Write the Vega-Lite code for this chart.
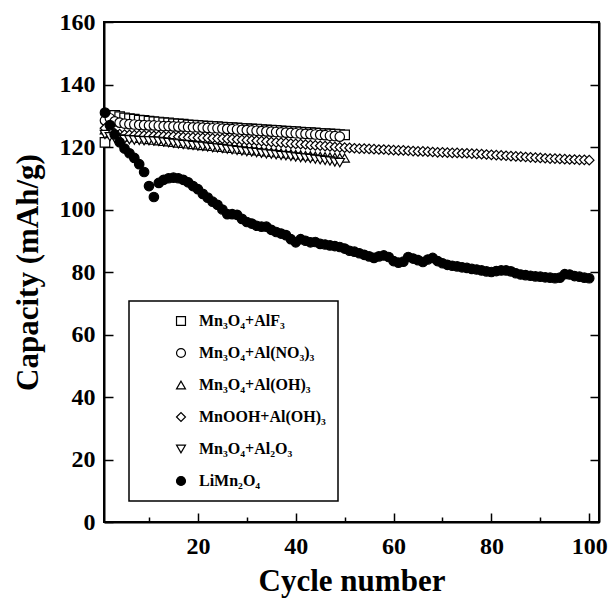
{
  "$schema": "https://vega.github.io/schema/vega-lite/v6.json",
  "width": 495,
  "height": 500,
  "autosize": "none",
  "padding": {"left": 104, "top": 22, "right": 11, "bottom": 76},
  "background": "white",
  "config": {
    "view": {"stroke": "black", "strokeWidth": 2},
    "font": "Liberation Serif",
    "axis": {
      "labelFont": "Liberation Serif", "labelFontWeight": "bold", "labelFontSize": 24, "labelColor": "black",
      "titleFont": "Liberation Serif", "titleFontWeight": "bold", "titleFontSize": 31, "titleColor": "black",
      "domainColor": "black", "domainWidth": 2, "tickColor": "black", "tickWidth": 1.5, "grid": false
    },
    "legend": {
      "orient": "none", "legendX": 25, "legendY": 279, "strokeColor": "black", "strokeWidth": 1.5,
      "padding": 12, "symbolOffset": 32, "labelOffset": 10, "rowPadding": 16,
      "labelFont": "Liberation Serif", "labelFontSize": 16, "labelFontWeight": "bold", "labelColor": "black",
      "symbolSize": 80, "symbolStrokeWidth": 1.2, "title": null
    }
  },
  "data": {"values": [
    {"series":"Mn₃O₄+AlF₃","cycle":1,"capacity":121.5},{"series":"Mn₃O₄+AlF₃","cycle":2,"capacity":130.0},{"series":"Mn₃O₄+AlF₃","cycle":3,"capacity":130.1},{"series":"Mn₃O₄+AlF₃","cycle":4,"capacity":129.7},{"series":"Mn₃O₄+AlF₃","cycle":5,"capacity":129.3},{"series":"Mn₃O₄+AlF₃","cycle":6,"capacity":129.1},{"series":"Mn₃O₄+AlF₃","cycle":7,"capacity":128.9},{"series":"Mn₃O₄+AlF₃","cycle":8,"capacity":128.6},{"series":"Mn₃O₄+AlF₃","cycle":9,"capacity":128.5},{"series":"Mn₃O₄+AlF₃","cycle":10,"capacity":128.3},
    {"series":"Mn₃O₄+AlF₃","cycle":11,"capacity":128.1},{"series":"Mn₃O₄+AlF₃","cycle":12,"capacity":128.0},{"series":"Mn₃O₄+AlF₃","cycle":13,"capacity":127.8},{"series":"Mn₃O₄+AlF₃","cycle":14,"capacity":127.7},{"series":"Mn₃O₄+AlF₃","cycle":15,"capacity":127.5},{"series":"Mn₃O₄+AlF₃","cycle":16,"capacity":127.4},{"series":"Mn₃O₄+AlF₃","cycle":17,"capacity":127.3},{"series":"Mn₃O₄+AlF₃","cycle":18,"capacity":127.1},{"series":"Mn₃O₄+AlF₃","cycle":19,"capacity":127.0},{"series":"Mn₃O₄+AlF₃","cycle":20,"capacity":126.9},
    {"series":"Mn₃O₄+AlF₃","cycle":21,"capacity":126.8},{"series":"Mn₃O₄+AlF₃","cycle":22,"capacity":126.7},{"series":"Mn₃O₄+AlF₃","cycle":23,"capacity":126.6},{"series":"Mn₃O₄+AlF₃","cycle":24,"capacity":126.5},{"series":"Mn₃O₄+AlF₃","cycle":25,"capacity":126.4},{"series":"Mn₃O₄+AlF₃","cycle":26,"capacity":126.3},{"series":"Mn₃O₄+AlF₃","cycle":27,"capacity":126.2},{"series":"Mn₃O₄+AlF₃","cycle":28,"capacity":126.1},{"series":"Mn₃O₄+AlF₃","cycle":29,"capacity":126.0},{"series":"Mn₃O₄+AlF₃","cycle":30,"capacity":125.9},
    {"series":"Mn₃O₄+AlF₃","cycle":31,"capacity":125.8},{"series":"Mn₃O₄+AlF₃","cycle":32,"capacity":125.7},{"series":"Mn₃O₄+AlF₃","cycle":33,"capacity":125.6},{"series":"Mn₃O₄+AlF₃","cycle":34,"capacity":125.5},{"series":"Mn₃O₄+AlF₃","cycle":35,"capacity":125.4},{"series":"Mn₃O₄+AlF₃","cycle":36,"capacity":125.3},{"series":"Mn₃O₄+AlF₃","cycle":37,"capacity":125.2},{"series":"Mn₃O₄+AlF₃","cycle":38,"capacity":125.1},{"series":"Mn₃O₄+AlF₃","cycle":39,"capacity":125.0},{"series":"Mn₃O₄+AlF₃","cycle":40,"capacity":124.9},
    {"series":"Mn₃O₄+AlF₃","cycle":41,"capacity":124.8},{"series":"Mn₃O₄+AlF₃","cycle":42,"capacity":124.7},{"series":"Mn₃O₄+AlF₃","cycle":43,"capacity":124.6},{"series":"Mn₃O₄+AlF₃","cycle":44,"capacity":124.5},{"series":"Mn₃O₄+AlF₃","cycle":45,"capacity":124.4},{"series":"Mn₃O₄+AlF₃","cycle":46,"capacity":124.3},{"series":"Mn₃O₄+AlF₃","cycle":47,"capacity":124.2},{"series":"Mn₃O₄+AlF₃","cycle":48,"capacity":124.1},{"series":"Mn₃O₄+AlF₃","cycle":49,"capacity":124.0},{"series":"Mn₃O₄+AlF₃","cycle":50,"capacity":123.9},

    {"series":"Mn₃O₄+Al(NO₃)₃","cycle":1,"capacity":128.5},{"series":"Mn₃O₄+Al(NO₃)₃","cycle":2,"capacity":129.2},{"series":"Mn₃O₄+Al(NO₃)₃","cycle":3,"capacity":128.2},{"series":"Mn₃O₄+Al(NO₃)₃","cycle":4,"capacity":127.8},{"series":"Mn₃O₄+Al(NO₃)₃","cycle":5,"capacity":127.5},{"series":"Mn₃O₄+Al(NO₃)₃","cycle":6,"capacity":127.3},{"series":"Mn₃O₄+Al(NO₃)₃","cycle":7,"capacity":127.2},{"series":"Mn₃O₄+Al(NO₃)₃","cycle":8,"capacity":127.1},{"series":"Mn₃O₄+Al(NO₃)₃","cycle":9,"capacity":127.0},{"series":"Mn₃O₄+Al(NO₃)₃","cycle":10,"capacity":126.9},
    {"series":"Mn₃O₄+Al(NO₃)₃","cycle":11,"capacity":126.9},{"series":"Mn₃O₄+Al(NO₃)₃","cycle":12,"capacity":126.8},{"series":"Mn₃O₄+Al(NO₃)₃","cycle":13,"capacity":126.7},{"series":"Mn₃O₄+Al(NO₃)₃","cycle":14,"capacity":126.7},{"series":"Mn₃O₄+Al(NO₃)₃","cycle":15,"capacity":126.6},{"series":"Mn₃O₄+Al(NO₃)₃","cycle":16,"capacity":126.5},{"series":"Mn₃O₄+Al(NO₃)₃","cycle":17,"capacity":126.5},{"series":"Mn₃O₄+Al(NO₃)₃","cycle":18,"capacity":126.4},{"series":"Mn₃O₄+Al(NO₃)₃","cycle":19,"capacity":126.3},{"series":"Mn₃O₄+Al(NO₃)₃","cycle":20,"capacity":126.3},
    {"series":"Mn₃O₄+Al(NO₃)₃","cycle":21,"capacity":126.2},{"series":"Mn₃O₄+Al(NO₃)₃","cycle":22,"capacity":126.1},{"series":"Mn₃O₄+Al(NO₃)₃","cycle":23,"capacity":126.0},{"series":"Mn₃O₄+Al(NO₃)₃","cycle":24,"capacity":126.0},{"series":"Mn₃O₄+Al(NO₃)₃","cycle":25,"capacity":125.9},{"series":"Mn₃O₄+Al(NO₃)₃","cycle":26,"capacity":125.8},{"series":"Mn₃O₄+Al(NO₃)₃","cycle":27,"capacity":125.7},{"series":"Mn₃O₄+Al(NO₃)₃","cycle":28,"capacity":125.6},{"series":"Mn₃O₄+Al(NO₃)₃","cycle":29,"capacity":125.5},{"series":"Mn₃O₄+Al(NO₃)₃","cycle":30,"capacity":125.4},
    {"series":"Mn₃O₄+Al(NO₃)₃","cycle":31,"capacity":125.3},{"series":"Mn₃O₄+Al(NO₃)₃","cycle":32,"capacity":125.2},{"series":"Mn₃O₄+Al(NO₃)₃","cycle":33,"capacity":125.1},{"series":"Mn₃O₄+Al(NO₃)₃","cycle":34,"capacity":125.0},{"series":"Mn₃O₄+Al(NO₃)₃","cycle":35,"capacity":124.9},{"series":"Mn₃O₄+Al(NO₃)₃","cycle":36,"capacity":124.8},{"series":"Mn₃O₄+Al(NO₃)₃","cycle":37,"capacity":124.7},{"series":"Mn₃O₄+Al(NO₃)₃","cycle":38,"capacity":124.6},{"series":"Mn₃O₄+Al(NO₃)₃","cycle":39,"capacity":124.5},{"series":"Mn₃O₄+Al(NO₃)₃","cycle":40,"capacity":124.4},
    {"series":"Mn₃O₄+Al(NO₃)₃","cycle":41,"capacity":124.3},{"series":"Mn₃O₄+Al(NO₃)₃","cycle":42,"capacity":124.2},{"series":"Mn₃O₄+Al(NO₃)₃","cycle":43,"capacity":124.1},{"series":"Mn₃O₄+Al(NO₃)₃","cycle":44,"capacity":124.0},{"series":"Mn₃O₄+Al(NO₃)₃","cycle":45,"capacity":123.9},{"series":"Mn₃O₄+Al(NO₃)₃","cycle":46,"capacity":123.8},{"series":"Mn₃O₄+Al(NO₃)₃","cycle":47,"capacity":123.6},{"series":"Mn₃O₄+Al(NO₃)₃","cycle":48,"capacity":123.5},{"series":"Mn₃O₄+Al(NO₃)₃","cycle":49,"capacity":123.3},

    {"series":"Mn₃O₄+Al(OH)₃","cycle":1,"capacity":125.5},{"series":"Mn₃O₄+Al(OH)₃","cycle":2,"capacity":124.8},{"series":"Mn₃O₄+Al(OH)₃","cycle":3,"capacity":124.2},{"series":"Mn₃O₄+Al(OH)₃","cycle":4,"capacity":123.8},{"series":"Mn₃O₄+Al(OH)₃","cycle":5,"capacity":123.5},{"series":"Mn₃O₄+Al(OH)₃","cycle":6,"capacity":123.2},{"series":"Mn₃O₄+Al(OH)₃","cycle":7,"capacity":123.0},{"series":"Mn₃O₄+Al(OH)₃","cycle":8,"capacity":122.8},{"series":"Mn₃O₄+Al(OH)₃","cycle":9,"capacity":122.6},{"series":"Mn₃O₄+Al(OH)₃","cycle":10,"capacity":122.4},
    {"series":"Mn₃O₄+Al(OH)₃","cycle":11,"capacity":122.2},{"series":"Mn₃O₄+Al(OH)₃","cycle":12,"capacity":122.0},{"series":"Mn₃O₄+Al(OH)₃","cycle":13,"capacity":121.8},{"series":"Mn₃O₄+Al(OH)₃","cycle":14,"capacity":121.7},{"series":"Mn₃O₄+Al(OH)₃","cycle":15,"capacity":121.5},{"series":"Mn₃O₄+Al(OH)₃","cycle":16,"capacity":121.3},{"series":"Mn₃O₄+Al(OH)₃","cycle":17,"capacity":121.2},{"series":"Mn₃O₄+Al(OH)₃","cycle":18,"capacity":121.0},{"series":"Mn₃O₄+Al(OH)₃","cycle":19,"capacity":120.8},{"series":"Mn₃O₄+Al(OH)₃","cycle":20,"capacity":120.7},
    {"series":"Mn₃O₄+Al(OH)₃","cycle":21,"capacity":120.5},{"series":"Mn₃O₄+Al(OH)₃","cycle":22,"capacity":120.4},{"series":"Mn₃O₄+Al(OH)₃","cycle":23,"capacity":120.2},{"series":"Mn₃O₄+Al(OH)₃","cycle":24,"capacity":120.0},{"series":"Mn₃O₄+Al(OH)₃","cycle":25,"capacity":119.9},{"series":"Mn₃O₄+Al(OH)₃","cycle":26,"capacity":119.7},{"series":"Mn₃O₄+Al(OH)₃","cycle":27,"capacity":119.6},{"series":"Mn₃O₄+Al(OH)₃","cycle":28,"capacity":119.4},{"series":"Mn₃O₄+Al(OH)₃","cycle":29,"capacity":119.3},{"series":"Mn₃O₄+Al(OH)₃","cycle":30,"capacity":119.1},
    {"series":"Mn₃O₄+Al(OH)₃","cycle":31,"capacity":119.0},{"series":"Mn₃O₄+Al(OH)₃","cycle":32,"capacity":118.8},{"series":"Mn₃O₄+Al(OH)₃","cycle":33,"capacity":118.7},{"series":"Mn₃O₄+Al(OH)₃","cycle":34,"capacity":118.5},{"series":"Mn₃O₄+Al(OH)₃","cycle":35,"capacity":118.4},{"series":"Mn₃O₄+Al(OH)₃","cycle":36,"capacity":118.2},{"series":"Mn₃O₄+Al(OH)₃","cycle":37,"capacity":118.1},{"series":"Mn₃O₄+Al(OH)₃","cycle":38,"capacity":117.9},{"series":"Mn₃O₄+Al(OH)₃","cycle":39,"capacity":117.8},{"series":"Mn₃O₄+Al(OH)₃","cycle":40,"capacity":117.6},
    {"series":"Mn₃O₄+Al(OH)₃","cycle":41,"capacity":117.5},{"series":"Mn₃O₄+Al(OH)₃","cycle":42,"capacity":117.3},{"series":"Mn₃O₄+Al(OH)₃","cycle":43,"capacity":117.2},{"series":"Mn₃O₄+Al(OH)₃","cycle":44,"capacity":117.1},{"series":"Mn₃O₄+Al(OH)₃","cycle":45,"capacity":117.0},{"series":"Mn₃O₄+Al(OH)₃","cycle":46,"capacity":116.9},{"series":"Mn₃O₄+Al(OH)₃","cycle":47,"capacity":116.8},{"series":"Mn₃O₄+Al(OH)₃","cycle":48,"capacity":116.7},{"series":"Mn₃O₄+Al(OH)₃","cycle":49,"capacity":116.6},{"series":"Mn₃O₄+Al(OH)₃","cycle":50,"capacity":116.5},

    {"series":"MnOOH+Al(OH)₃","cycle":1,"capacity":126.0},{"series":"MnOOH+Al(OH)₃","cycle":2,"capacity":125.0},{"series":"MnOOH+Al(OH)₃","cycle":3,"capacity":124.4},{"series":"MnOOH+Al(OH)₃","cycle":4,"capacity":124.1},{"series":"MnOOH+Al(OH)₃","cycle":5,"capacity":124.0},{"series":"MnOOH+Al(OH)₃","cycle":6,"capacity":123.9},{"series":"MnOOH+Al(OH)₃","cycle":7,"capacity":123.8},{"series":"MnOOH+Al(OH)₃","cycle":8,"capacity":123.8},{"series":"MnOOH+Al(OH)₃","cycle":9,"capacity":123.7},{"series":"MnOOH+Al(OH)₃","cycle":10,"capacity":123.7},
    {"series":"MnOOH+Al(OH)₃","cycle":11,"capacity":123.6},{"series":"MnOOH+Al(OH)₃","cycle":12,"capacity":123.6},{"series":"MnOOH+Al(OH)₃","cycle":13,"capacity":123.5},{"series":"MnOOH+Al(OH)₃","cycle":14,"capacity":123.4},{"series":"MnOOH+Al(OH)₃","cycle":15,"capacity":123.4},{"series":"MnOOH+Al(OH)₃","cycle":16,"capacity":123.3},{"series":"MnOOH+Al(OH)₃","cycle":17,"capacity":123.2},{"series":"MnOOH+Al(OH)₃","cycle":18,"capacity":123.1},{"series":"MnOOH+Al(OH)₃","cycle":19,"capacity":123.1},{"series":"MnOOH+Al(OH)₃","cycle":20,"capacity":123.0},
    {"series":"MnOOH+Al(OH)₃","cycle":21,"capacity":122.9},{"series":"MnOOH+Al(OH)₃","cycle":22,"capacity":122.9},{"series":"MnOOH+Al(OH)₃","cycle":23,"capacity":122.8},{"series":"MnOOH+Al(OH)₃","cycle":24,"capacity":122.7},{"series":"MnOOH+Al(OH)₃","cycle":25,"capacity":122.7},{"series":"MnOOH+Al(OH)₃","cycle":26,"capacity":122.6},{"series":"MnOOH+Al(OH)₃","cycle":27,"capacity":122.5},{"series":"MnOOH+Al(OH)₃","cycle":28,"capacity":122.4},{"series":"MnOOH+Al(OH)₃","cycle":29,"capacity":122.3},{"series":"MnOOH+Al(OH)₃","cycle":30,"capacity":122.2},
    {"series":"MnOOH+Al(OH)₃","cycle":31,"capacity":122.1},{"series":"MnOOH+Al(OH)₃","cycle":32,"capacity":122.0},{"series":"MnOOH+Al(OH)₃","cycle":33,"capacity":121.9},{"series":"MnOOH+Al(OH)₃","cycle":34,"capacity":121.8},{"series":"MnOOH+Al(OH)₃","cycle":35,"capacity":121.6},{"series":"MnOOH+Al(OH)₃","cycle":36,"capacity":121.5},{"series":"MnOOH+Al(OH)₃","cycle":37,"capacity":121.4},{"series":"MnOOH+Al(OH)₃","cycle":38,"capacity":121.3},{"series":"MnOOH+Al(OH)₃","cycle":39,"capacity":121.1},{"series":"MnOOH+Al(OH)₃","cycle":40,"capacity":121.0},
    {"series":"MnOOH+Al(OH)₃","cycle":41,"capacity":120.9},{"series":"MnOOH+Al(OH)₃","cycle":42,"capacity":120.8},{"series":"MnOOH+Al(OH)₃","cycle":43,"capacity":120.6},{"series":"MnOOH+Al(OH)₃","cycle":44,"capacity":120.5},{"series":"MnOOH+Al(OH)₃","cycle":45,"capacity":120.4},{"series":"MnOOH+Al(OH)₃","cycle":46,"capacity":120.3},{"series":"MnOOH+Al(OH)₃","cycle":47,"capacity":120.2},{"series":"MnOOH+Al(OH)₃","cycle":48,"capacity":120.0},{"series":"MnOOH+Al(OH)₃","cycle":49,"capacity":119.9},{"series":"MnOOH+Al(OH)₃","cycle":50,"capacity":119.8},
    {"series":"MnOOH+Al(OH)₃","cycle":51,"capacity":119.7},{"series":"MnOOH+Al(OH)₃","cycle":52,"capacity":119.6},{"series":"MnOOH+Al(OH)₃","cycle":53,"capacity":119.5},{"series":"MnOOH+Al(OH)₃","cycle":54,"capacity":119.5},{"series":"MnOOH+Al(OH)₃","cycle":55,"capacity":119.4},{"series":"MnOOH+Al(OH)₃","cycle":56,"capacity":119.3},{"series":"MnOOH+Al(OH)₃","cycle":57,"capacity":119.2},{"series":"MnOOH+Al(OH)₃","cycle":58,"capacity":119.2},{"series":"MnOOH+Al(OH)₃","cycle":59,"capacity":119.1},{"series":"MnOOH+Al(OH)₃","cycle":60,"capacity":119.0},
    {"series":"MnOOH+Al(OH)₃","cycle":61,"capacity":118.9},{"series":"MnOOH+Al(OH)₃","cycle":62,"capacity":118.9},{"series":"MnOOH+Al(OH)₃","cycle":63,"capacity":118.8},{"series":"MnOOH+Al(OH)₃","cycle":64,"capacity":118.7},{"series":"MnOOH+Al(OH)₃","cycle":65,"capacity":118.6},{"series":"MnOOH+Al(OH)₃","cycle":66,"capacity":118.6},{"series":"MnOOH+Al(OH)₃","cycle":67,"capacity":118.5},{"series":"MnOOH+Al(OH)₃","cycle":68,"capacity":118.4},{"series":"MnOOH+Al(OH)₃","cycle":69,"capacity":118.3},{"series":"MnOOH+Al(OH)₃","cycle":70,"capacity":118.3},
    {"series":"MnOOH+Al(OH)₃","cycle":71,"capacity":118.2},{"series":"MnOOH+Al(OH)₃","cycle":72,"capacity":118.1},{"series":"MnOOH+Al(OH)₃","cycle":73,"capacity":118.1},{"series":"MnOOH+Al(OH)₃","cycle":74,"capacity":118.0},{"series":"MnOOH+Al(OH)₃","cycle":75,"capacity":118.0},{"series":"MnOOH+Al(OH)₃","cycle":76,"capacity":117.9},{"series":"MnOOH+Al(OH)₃","cycle":77,"capacity":117.8},{"series":"MnOOH+Al(OH)₃","cycle":78,"capacity":117.7},{"series":"MnOOH+Al(OH)₃","cycle":79,"capacity":117.6},{"series":"MnOOH+Al(OH)₃","cycle":80,"capacity":117.5},
    {"series":"MnOOH+Al(OH)₃","cycle":81,"capacity":117.4},{"series":"MnOOH+Al(OH)₃","cycle":82,"capacity":117.3},{"series":"MnOOH+Al(OH)₃","cycle":83,"capacity":117.2},{"series":"MnOOH+Al(OH)₃","cycle":84,"capacity":117.1},{"series":"MnOOH+Al(OH)₃","cycle":85,"capacity":117.0},{"series":"MnOOH+Al(OH)₃","cycle":86,"capacity":116.9},{"series":"MnOOH+Al(OH)₃","cycle":87,"capacity":116.8},{"series":"MnOOH+Al(OH)₃","cycle":88,"capacity":116.7},{"series":"MnOOH+Al(OH)₃","cycle":89,"capacity":116.6},{"series":"MnOOH+Al(OH)₃","cycle":90,"capacity":116.5},
    {"series":"MnOOH+Al(OH)₃","cycle":91,"capacity":116.4},{"series":"MnOOH+Al(OH)₃","cycle":92,"capacity":116.3},{"series":"MnOOH+Al(OH)₃","cycle":93,"capacity":116.3},{"series":"MnOOH+Al(OH)₃","cycle":94,"capacity":116.2},{"series":"MnOOH+Al(OH)₃","cycle":95,"capacity":116.1},{"series":"MnOOH+Al(OH)₃","cycle":96,"capacity":116.0},{"series":"MnOOH+Al(OH)₃","cycle":97,"capacity":116.0},{"series":"MnOOH+Al(OH)₃","cycle":98,"capacity":115.9},{"series":"MnOOH+Al(OH)₃","cycle":99,"capacity":115.9},{"series":"MnOOH+Al(OH)₃","cycle":100,"capacity":115.8},

    {"series":"Mn₃O₄+Al₂O₃","cycle":1,"capacity":124.0},{"series":"Mn₃O₄+Al₂O₃","cycle":2,"capacity":123.3},{"series":"Mn₃O₄+Al₂O₃","cycle":3,"capacity":122.8},{"series":"Mn₃O₄+Al₂O₃","cycle":4,"capacity":122.6},{"series":"Mn₃O₄+Al₂O₃","cycle":5,"capacity":122.4},{"series":"Mn₃O₄+Al₂O₃","cycle":6,"capacity":122.3},{"series":"Mn₃O₄+Al₂O₃","cycle":7,"capacity":122.2},{"series":"Mn₃O₄+Al₂O₃","cycle":8,"capacity":122.1},{"series":"Mn₃O₄+Al₂O₃","cycle":9,"capacity":122.0},{"series":"Mn₃O₄+Al₂O₃","cycle":10,"capacity":122.0},
    {"series":"Mn₃O₄+Al₂O₃","cycle":11,"capacity":121.9},{"series":"Mn₃O₄+Al₂O₃","cycle":12,"capacity":121.8},{"series":"Mn₃O₄+Al₂O₃","cycle":13,"capacity":121.6},{"series":"Mn₃O₄+Al₂O₃","cycle":14,"capacity":121.4},{"series":"Mn₃O₄+Al₂O₃","cycle":15,"capacity":121.2},{"series":"Mn₃O₄+Al₂O₃","cycle":16,"capacity":121.0},{"series":"Mn₃O₄+Al₂O₃","cycle":17,"capacity":120.8},{"series":"Mn₃O₄+Al₂O₃","cycle":18,"capacity":120.7},{"series":"Mn₃O₄+Al₂O₃","cycle":19,"capacity":120.5},{"series":"Mn₃O₄+Al₂O₃","cycle":20,"capacity":120.3},
    {"series":"Mn₃O₄+Al₂O₃","cycle":21,"capacity":120.2},{"series":"Mn₃O₄+Al₂O₃","cycle":22,"capacity":120.0},{"series":"Mn₃O₄+Al₂O₃","cycle":23,"capacity":119.8},{"series":"Mn₃O₄+Al₂O₃","cycle":24,"capacity":119.7},{"series":"Mn₃O₄+Al₂O₃","cycle":25,"capacity":119.5},{"series":"Mn₃O₄+Al₂O₃","cycle":26,"capacity":119.3},{"series":"Mn₃O₄+Al₂O₃","cycle":27,"capacity":119.1},{"series":"Mn₃O₄+Al₂O₃","cycle":28,"capacity":118.9},{"series":"Mn₃O₄+Al₂O₃","cycle":29,"capacity":118.7},{"series":"Mn₃O₄+Al₂O₃","cycle":30,"capacity":118.5},
    {"series":"Mn₃O₄+Al₂O₃","cycle":31,"capacity":118.4},{"series":"Mn₃O₄+Al₂O₃","cycle":32,"capacity":118.2},{"series":"Mn₃O₄+Al₂O₃","cycle":33,"capacity":118.0},{"series":"Mn₃O₄+Al₂O₃","cycle":34,"capacity":117.8},{"series":"Mn₃O₄+Al₂O₃","cycle":35,"capacity":117.7},{"series":"Mn₃O₄+Al₂O₃","cycle":36,"capacity":117.5},{"series":"Mn₃O₄+Al₂O₃","cycle":37,"capacity":117.3},{"series":"Mn₃O₄+Al₂O₃","cycle":38,"capacity":117.2},{"series":"Mn₃O₄+Al₂O₃","cycle":39,"capacity":117.0},{"series":"Mn₃O₄+Al₂O₃","cycle":40,"capacity":116.8},
    {"series":"Mn₃O₄+Al₂O₃","cycle":41,"capacity":116.6},{"series":"Mn₃O₄+Al₂O₃","cycle":42,"capacity":116.5},{"series":"Mn₃O₄+Al₂O₃","cycle":43,"capacity":116.3},{"series":"Mn₃O₄+Al₂O₃","cycle":44,"capacity":116.1},{"series":"Mn₃O₄+Al₂O₃","cycle":45,"capacity":115.9},{"series":"Mn₃O₄+Al₂O₃","cycle":46,"capacity":115.7},{"series":"Mn₃O₄+Al₂O₃","cycle":47,"capacity":115.5},{"series":"Mn₃O₄+Al₂O₃","cycle":48,"capacity":115.2},{"series":"Mn₃O₄+Al₂O₃","cycle":49,"capacity":115.0},

    {"series":"LiMn₂O₄","cycle":1,"capacity":131.0},{"series":"LiMn₂O₄","cycle":2,"capacity":127.0},{"series":"LiMn₂O₄","cycle":3,"capacity":124.0},{"series":"LiMn₂O₄","cycle":4,"capacity":121.5},{"series":"LiMn₂O₄","cycle":5,"capacity":119.5},{"series":"LiMn₂O₄","cycle":6,"capacity":118.0},{"series":"LiMn₂O₄","cycle":7,"capacity":116.5},{"series":"LiMn₂O₄","cycle":8,"capacity":114.5},{"series":"LiMn₂O₄","cycle":9,"capacity":112.0},{"series":"LiMn₂O₄","cycle":10,"capacity":107.5},
    {"series":"LiMn₂O₄","cycle":11,"capacity":104.0},{"series":"LiMn₂O₄","cycle":12,"capacity":108.5},{"series":"LiMn₂O₄","cycle":13,"capacity":109.5},{"series":"LiMn₂O₄","cycle":14,"capacity":110.0},{"series":"LiMn₂O₄","cycle":15,"capacity":110.2},{"series":"LiMn₂O₄","cycle":16,"capacity":110.0},{"series":"LiMn₂O₄","cycle":17,"capacity":109.5},{"series":"LiMn₂O₄","cycle":18,"capacity":108.7},{"series":"LiMn₂O₄","cycle":19,"capacity":107.5},{"series":"LiMn₂O₄","cycle":20,"capacity":106.5},
    {"series":"LiMn₂O₄","cycle":21,"capacity":105.0},{"series":"LiMn₂O₄","cycle":22,"capacity":103.8},{"series":"LiMn₂O₄","cycle":23,"capacity":102.5},{"series":"LiMn₂O₄","cycle":24,"capacity":101.5},{"series":"LiMn₂O₄","cycle":25,"capacity":100.0},{"series":"LiMn₂O₄","cycle":26,"capacity":98.5},{"series":"LiMn₂O₄","cycle":27,"capacity":98.5},{"series":"LiMn₂O₄","cycle":28,"capacity":98.3},{"series":"LiMn₂O₄","cycle":29,"capacity":97.0},{"series":"LiMn₂O₄","cycle":30,"capacity":96.0},
    {"series":"LiMn₂O₄","cycle":31,"capacity":95.5},{"series":"LiMn₂O₄","cycle":32,"capacity":94.8},{"series":"LiMn₂O₄","cycle":33,"capacity":94.5},{"series":"LiMn₂O₄","cycle":34,"capacity":94.5},{"series":"LiMn₂O₄","cycle":35,"capacity":93.5},{"series":"LiMn₂O₄","cycle":36,"capacity":92.8},{"series":"LiMn₂O₄","cycle":37,"capacity":92.3},{"series":"LiMn₂O₄","cycle":38,"capacity":91.8},{"series":"LiMn₂O₄","cycle":39,"capacity":90.5},{"series":"LiMn₂O₄","cycle":40,"capacity":89.5},
    {"series":"LiMn₂O₄","cycle":41,"capacity":90.5},{"series":"LiMn₂O₄","cycle":42,"capacity":90.0},{"series":"LiMn₂O₄","cycle":43,"capacity":89.5},{"series":"LiMn₂O₄","cycle":44,"capacity":89.6},{"series":"LiMn₂O₄","cycle":45,"capacity":89.0},{"series":"LiMn₂O₄","cycle":46,"capacity":88.8},{"series":"LiMn₂O₄","cycle":47,"capacity":88.5},{"series":"LiMn₂O₄","cycle":48,"capacity":88.3},{"series":"LiMn₂O₄","cycle":49,"capacity":88.0},{"series":"LiMn₂O₄","cycle":50,"capacity":87.5},
    {"series":"LiMn₂O₄","cycle":51,"capacity":86.8},{"series":"LiMn₂O₄","cycle":52,"capacity":86.5},{"series":"LiMn₂O₄","cycle":53,"capacity":86.0},{"series":"LiMn₂O₄","cycle":54,"capacity":85.5},{"series":"LiMn₂O₄","cycle":55,"capacity":85.0},{"series":"LiMn₂O₄","cycle":56,"capacity":84.5},{"series":"LiMn₂O₄","cycle":57,"capacity":85.0},{"series":"LiMn₂O₄","cycle":58,"capacity":85.3},{"series":"LiMn₂O₄","cycle":59,"capacity":84.8},{"series":"LiMn₂O₄","cycle":60,"capacity":83.5},
    {"series":"LiMn₂O₄","cycle":61,"capacity":83.0},{"series":"LiMn₂O₄","cycle":62,"capacity":83.3},{"series":"LiMn₂O₄","cycle":63,"capacity":84.8},{"series":"LiMn₂O₄","cycle":64,"capacity":84.3},{"series":"LiMn₂O₄","cycle":65,"capacity":83.8},{"series":"LiMn₂O₄","cycle":66,"capacity":83.2},{"series":"LiMn₂O₄","cycle":67,"capacity":84.0},{"series":"LiMn₂O₄","cycle":68,"capacity":84.5},{"series":"LiMn₂O₄","cycle":69,"capacity":83.5},{"series":"LiMn₂O₄","cycle":70,"capacity":82.8},
    {"series":"LiMn₂O₄","cycle":71,"capacity":82.3},{"series":"LiMn₂O₄","cycle":72,"capacity":82.0},{"series":"LiMn₂O₄","cycle":73,"capacity":81.8},{"series":"LiMn₂O₄","cycle":74,"capacity":81.5},{"series":"LiMn₂O₄","cycle":75,"capacity":81.3},{"series":"LiMn₂O₄","cycle":76,"capacity":81.0},{"series":"LiMn₂O₄","cycle":77,"capacity":80.8},{"series":"LiMn₂O₄","cycle":78,"capacity":80.5},{"series":"LiMn₂O₄","cycle":79,"capacity":80.2},{"series":"LiMn₂O₄","cycle":80,"capacity":80.0},
    {"series":"LiMn₂O₄","cycle":81,"capacity":80.3},{"series":"LiMn₂O₄","cycle":82,"capacity":80.5},{"series":"LiMn₂O₄","cycle":83,"capacity":80.5},{"series":"LiMn₂O₄","cycle":84,"capacity":80.2},{"series":"LiMn₂O₄","cycle":85,"capacity":79.6},{"series":"LiMn₂O₄","cycle":86,"capacity":79.2},{"series":"LiMn₂O₄","cycle":87,"capacity":79.0},{"series":"LiMn₂O₄","cycle":88,"capacity":78.8},{"series":"LiMn₂O₄","cycle":89,"capacity":78.6},{"series":"LiMn₂O₄","cycle":90,"capacity":78.5},
    {"series":"LiMn₂O₄","cycle":91,"capacity":78.3},{"series":"LiMn₂O₄","cycle":92,"capacity":78.2},{"series":"LiMn₂O₄","cycle":93,"capacity":78.0},{"series":"LiMn₂O₄","cycle":94,"capacity":78.2},{"series":"LiMn₂O₄","cycle":95,"capacity":79.3},{"series":"LiMn₂O₄","cycle":96,"capacity":79.2},{"series":"LiMn₂O₄","cycle":97,"capacity":78.7},{"series":"LiMn₂O₄","cycle":98,"capacity":78.5},{"series":"LiMn₂O₄","cycle":99,"capacity":78.2},{"series":"LiMn₂O₄","cycle":100,"capacity":78.0}
  ]},
  "layer": [
    {
      "mark": {"type": "point", "filled": true, "strokeWidth": 1.2, "size": 90, "opacity": 1},
      "encoding": {
        "x": {
          "field": "cycle", "type": "quantitative",
          "scale": {"domain": [0.8, 102], "nice": false, "zero": false},
          "axis": {
            "title": "Cycle number",
            "values": [10, 20, 30, 40, 50, 60, 70, 80, 90, 100],
            "labelExpr": "datum.value % 20 === 0 ? datum.label : ''",
            "tickSize": {"condition": {"test": "datum.value % 20 === 0", "value": -9}, "value": -5},
            "labelPadding": 21,
            "titlePadding": 8
          }
        },
        "y": {
          "field": "capacity", "type": "quantitative",
          "scale": {"domain": [0, 160], "nice": false, "zero": true},
          "axis": {
            "title": "Capacity (mAh/g)",
            "values": [0, 20, 40, 60, 80, 100, 120, 140, 160],
            "tickSize": -9, "labelPadding": 18, "titlePadding": 15
          }
        },
        "shape": {
          "field": "series", "type": "nominal",
          "scale": {
            "domain": ["Mn₃O₄+AlF₃", "Mn₃O₄+Al(NO₃)₃", "Mn₃O₄+Al(OH)₃", "MnOOH+Al(OH)₃", "Mn₃O₄+Al₂O₃", "LiMn₂O₄"],
            "range": ["square", "circle", "triangle-up", "diamond", "triangle-down", "circle"]
          }
        },
        "fill": {
          "field": "series", "type": "nominal",
          "scale": {
            "domain": ["Mn₃O₄+AlF₃", "Mn₃O₄+Al(NO₃)₃", "Mn₃O₄+Al(OH)₃", "MnOOH+Al(OH)₃", "Mn₃O₄+Al₂O₃", "LiMn₂O₄"],
            "range": ["white", "white", "white", "white", "white", "black"]
          }
        },
        "stroke": {
          "field": "series", "type": "nominal",
          "scale": {
            "domain": ["Mn₃O₄+AlF₃", "Mn₃O₄+Al(NO₃)₃", "Mn₃O₄+Al(OH)₃", "MnOOH+Al(OH)₃", "Mn₃O₄+Al₂O₃", "LiMn₂O₄"],
            "range": ["black", "black", "black", "black", "black", "black"]
          }
        }
      }
    },
    {
      "mark": {"type": "point", "opacity": 0},
      "encoding": {
        "x": {"field": "cycle", "type": "quantitative"},
        "y": {
          "field": "capacity", "type": "quantitative",
          "axis": {"orient": "right", "title": null, "labels": false, "values": [0, 20, 40, 60, 80, 100, 120, 140, 160], "tickSize": -9}
        }
      }
    }
  ],
  "resolve": {"axis": {"y": "independent"}}
}
